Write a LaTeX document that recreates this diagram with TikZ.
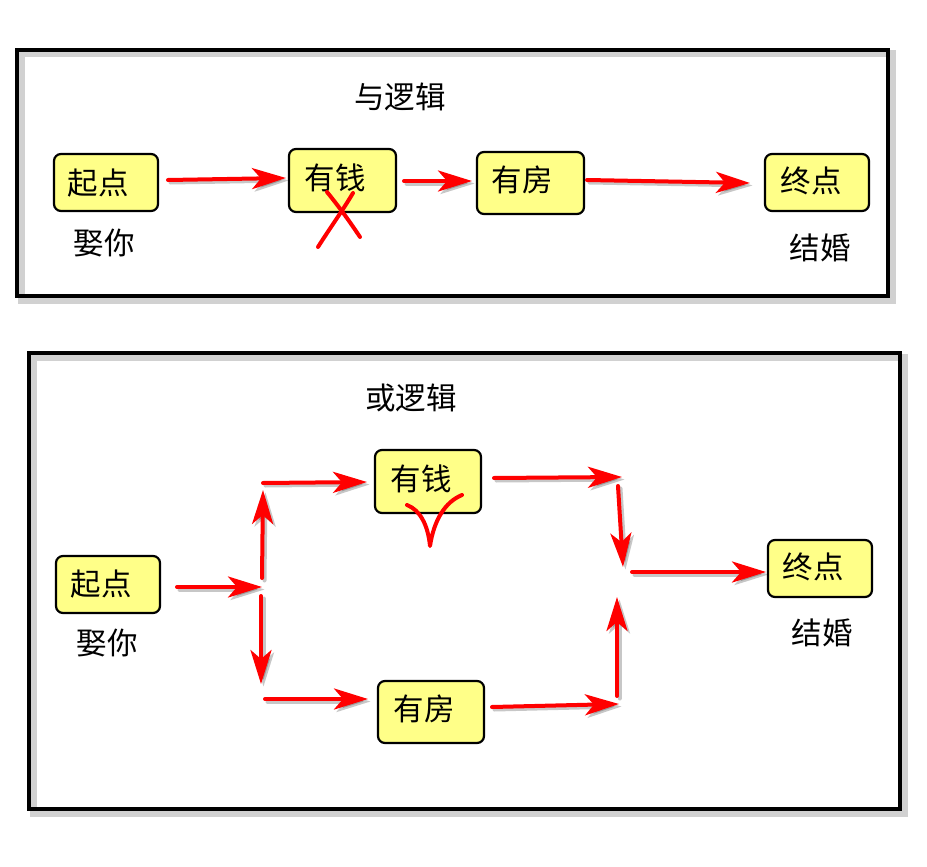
\documentclass[tikz,border=0pt]{standalone}
\usepackage{fontspec}
\newfontfamily\cjk{Noto Sans CJK SC}
\usetikzlibrary{arrows.meta}
\definecolor{boxyellow}{HTML}{FFFF88}
\definecolor{arrowred}{HTML}{FF0000}
\tikzset{
  frame/.style={line width=4.5pt, draw=black},
  frameshadow/.style={line width=7pt, draw=black, opacity=0.18},
  stepbox/.style={draw=black, line width=2.2pt, fill=boxyellow, rounded corners=7pt, inner sep=0pt},
  word/.style={font=\cjk\fontsize{30.5}{33}\selectfont, inner sep=0pt},
  title/.style={font=\cjk\fontsize{30.5}{33}\selectfont, inner sep=0pt},
  flow/.style={draw=arrowred, line width=4pt, line cap=round,
    -{Stealth[length=34pt, width=21pt, inset=9pt]}},
  flowshadow/.style={draw=black, opacity=0.22, line width=4pt, line cap=round,
    -{Stealth[length=34pt, width=21pt, inset=9pt]}},
  penstroke/.style={draw=arrowred, line width=4pt, line cap=round, line join=round},
}
\newcommand{\redarrow}[2]{%
  \draw[flowshadow, transform canvas={shift={(2.5pt,-2.5pt)}}] (#1) -- (#2);
  \draw[flow] (#1) -- (#2);}
\begin{document}
\begin{tikzpicture}[x=1pt, y=-1pt]
\useasboundingbox (0,0) rectangle (927,867);
\fill[white] (0,0) rectangle (927,867);

% ---------- AND logic panel ----------
\draw[frameshadow] (21,54) rectangle (892,300);
\draw[frame] (17,50) rectangle (888,296);
\node[title] (andtitle) at (400,97) {与逻辑};

\node[stepbox, minimum width=104, minimum height=57] (a1) at (106,182.5) {};
\node[word] (a1t) at (98,183) {起点};
\node[word] (a1l) at (104,243) {娶你};

\node[stepbox, minimum width=107, minimum height=63] (a2) at (342.5,180.5) {};
\node[word] (a2t) at (335,178) {有钱};

\node[stepbox, minimum width=107, minimum height=62] (a3) at (530.5,183) {};
\node[word] (a3t) at (522,180) {有房};

\node[stepbox, minimum width=104, minimum height=57] (a4) at (817,182.5) {};
\node[word] (a4t) at (811,181) {终点};
\node[word] (a4l) at (820,248) {结婚};

\coordinate (p1) at (168,180);  \coordinate (p2) at (286,178);
\coordinate (p3) at (404,181);  \coordinate (p4) at (472,181);
\coordinate (p5) at (587,180);  \coordinate (p6) at (750,183);
\redarrow{p1}{p2}
\redarrow{p3}{p4}
\redarrow{p5}{p6}

% cross over "有钱"
\coordinate (x1) at (327,192); \coordinate (x2) at (360,237);
\coordinate (x3) at (353,193); \coordinate (x4) at (318,247);
\draw[penstroke] (x1) .. controls (340,208) and (350,222) .. (x2);
\draw[penstroke] (x3) .. controls (343,210) and (330,228) .. (x4);

% ---------- OR logic panel ----------
\draw[frameshadow] (33,357) rectangle (904,813);
\draw[frame] (29,353) rectangle (900,809);
\node[title] (ortitle) at (411,398) {或逻辑};

\node[stepbox, minimum width=104, minimum height=57] (b1) at (108,584.5) {};
\node[word] (b1t) at (101,584) {起点};
\node[word] (b1l) at (107,643) {娶你};

\node[stepbox, minimum width=106, minimum height=63] (b2) at (428,481.5) {};
\node[word] (b2t) at (421,479) {有钱};

\node[stepbox, minimum width=106, minimum height=62] (b3) at (431,712) {};
\node[word] (b3t) at (424,709) {有房};

\node[stepbox, minimum width=104, minimum height=57] (b4) at (820,568.5) {};
\node[word] (b4t) at (813,567) {终点};
\node[word] (b4l) at (822,633) {结婚};

\coordinate (q1) at (177,587);  \coordinate (q2) at (262,587);
\coordinate (q3) at (262,578);  \coordinate (q4) at (263,490);
\coordinate (q5) at (263,483);  \coordinate (q6) at (367,482);
\coordinate (q7) at (261,596);  \coordinate (q8) at (261,684);
\coordinate (q9) at (265,699);  \coordinate (q10) at (368,699);
\coordinate (r1) at (494,478);  \coordinate (r2) at (622,477);
\coordinate (r3) at (618,486);  \coordinate (r4) at (623,567);
\coordinate (r5) at (632,572);  \coordinate (r6) at (766,572);
\coordinate (r7) at (492,707);  \coordinate (r8) at (619,704);
\coordinate (r9) at (617,696);  \coordinate (r10) at (617,597);
\redarrow{q1}{q2}
\redarrow{q3}{q4}
\redarrow{q5}{q6}
\redarrow{q7}{q8}
\redarrow{q9}{q10}
\redarrow{r1}{r2}
\redarrow{r3}{r4}
\redarrow{r5}{r6}
\redarrow{r7}{r8}
\redarrow{r9}{r10}

% tick under "有钱"
\coordinate (c1) at (407,505); \coordinate (c2) at (430,546); \coordinate (c3) at (462,495);
\draw[penstroke] (c1) .. controls (420,510) and (428,525) .. (c2)
            .. controls (434,520) and (445,502) .. (c3);
\end{tikzpicture}
\end{document}
